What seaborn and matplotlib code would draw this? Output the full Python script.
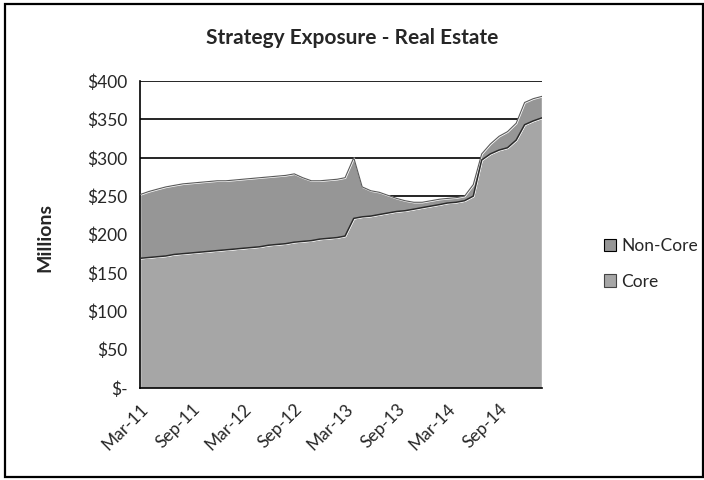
import matplotlib
matplotlib.use("Agg")
import matplotlib.pyplot as plt
import matplotlib.dates as mdates
from matplotlib.patches import Patch, Rectangle
import seaborn as sns
import pandas as pd

# monthly exposure, $ millions, Mar-11 .. Feb-15
months = pd.date_range("2011-03-01", periods=48, freq="MS")
core = [169, 170, 171, 172, 174, 175, 176, 177, 178, 179, 180, 181,
        182, 183, 184, 186, 187, 188, 190, 191, 192, 194, 195, 196,
        198, 221, 223, 224, 226, 228, 230, 231, 233, 235, 237, 239,
        241, 242, 244, 250, 297, 305, 310, 313, 323, 343, 348, 352]
non_core = [83, 86, 88, 90, 90, 91, 91, 91, 91, 91, 90, 90,
            90, 90, 90, 89, 89, 89, 89, 83, 78, 76, 76, 76,
            76, 79, 39, 33, 29, 23, 17, 13, 9, 7, 7, 7,
            6, 6, 6, 15, 8, 13, 18, 21, 22, 29, 29, 28]
y_ticks = [0, 50, 100, 150, 200, 250, 300, 350, 400]
y_labels = ["$-", "$50", "$100", "$150", "$200", "$250", "$300", "$350", "$400"]

sns.set_style("white")
plt.rcParams["font.family"] = ["Lato", "DejaVu Sans"]

fig = plt.figure(figsize=(7.04, 4.8), dpi=100)
ax = fig.add_axes([140 / 704, 1 - 388 / 480, 402 / 704, 307 / 480])

core_col = "#a6a6a6"
non_core_col = "#969696"
ax.stackplot(months, core, non_core, colors=[core_col, non_core_col], zorder=2)

total = [c + n for c, n in zip(core, non_core)]
sns.lineplot(x=months, y=core, ax=ax, color="#2b2b2b", lw=1.1, zorder=3)
sns.lineplot(x=months, y=total, ax=ax, color="#5a5a5a", lw=0.8, zorder=3)

ax.set_xlim(months[0], months[-1])
ax.set_ylim(0, 400)
ax.set_yticks(y_ticks)
ax.set_yticklabels(y_labels)
ax.xaxis.set_major_locator(mdates.MonthLocator(bymonth=[3, 9]))
ax.xaxis.set_major_formatter(mdates.DateFormatter("%b-%y"))
plt.setp(ax.get_xticklabels(), rotation=45, ha="right", rotation_mode="anchor")

ax.yaxis.grid(True, color="black", lw=1.2)
ax.set_axisbelow(True)
ax.tick_params(axis="both", direction="out", length=5, width=1.2,
               color="black", labelsize=12.5, pad=4)
for side in ["top", "right"]:
    ax.spines[side].set_visible(False)
for side in ["left", "bottom"]:
    ax.spines[side].set_color("black")
    ax.spines[side].set_linewidth(1.2)
ax.set_xlabel("")
ax.set_ylabel("")

fig.text(0.5, 1 - 38 / 480, "Strategy Exposure - Real Estate",
         ha="center", va="center", fontsize=15, fontweight="bold")
fig.text(45 / 704, 1 - 238 / 480, "Millions", rotation=90,
         ha="center", va="center", fontsize=14, fontweight="bold")

handles = [Patch(facecolor=non_core_col, edgecolor="black", lw=0.8),
           Patch(facecolor=core_col, edgecolor="#444444", lw=0.8)]
fig.legend(handles, ["Non-Core", "Core"], loc="center left",
           bbox_to_anchor=(588 / 704, 1 - 264 / 480), frameon=False,
           fontsize=12.5, handlelength=0.7, handleheight=0.7,
           handletextpad=0.3, labelspacing=1.1)

fig.patches.append(Rectangle((5 / 704, 3 / 480), 698 / 704, 473 / 480,
                             transform=fig.transFigure, fill=False,
                             ec="black", lw=1.6))

fig.savefig("out.png", dpi=100)
